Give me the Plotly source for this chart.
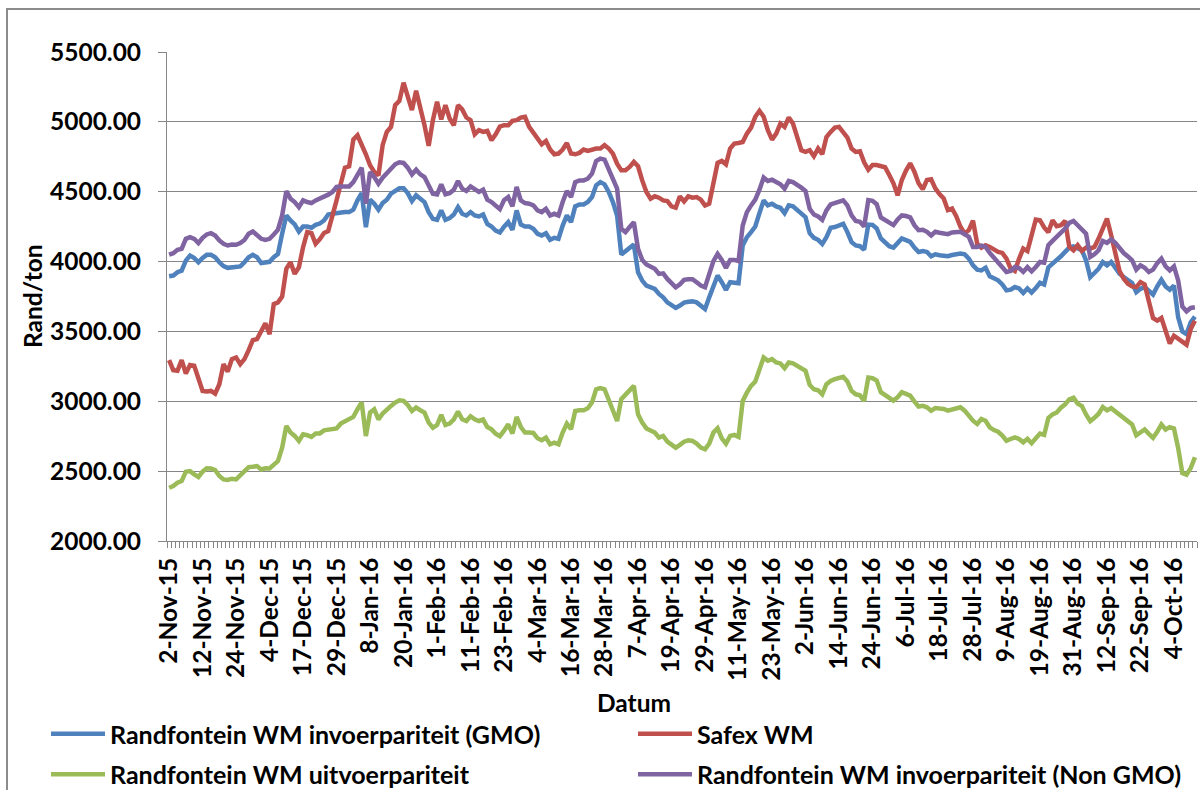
import plotly.graph_objects as go

# x-axis labels, one per 8 trading days
tick_labels = ['2-Nov-15', '12-Nov-15', '24-Nov-15', '4-Dec-15', '17-Dec-15', '29-Dec-15',
               '8-Jan-16', '20-Jan-16', '1-Feb-16', '11-Feb-16', '23-Feb-16', '4-Mar-16',
               '16-Mar-16', '28-Mar-16', '7-Apr-16', '19-Apr-16', '29-Apr-16', '11-May-16',
               '23-May-16', '2-Jun-16', '14-Jun-16', '24-Jun-16', '6-Jul-16', '18-Jul-16',
               '28-Jul-16', '9-Aug-16', '19-Aug-16', '31-Aug-16', '12-Sep-16', '22-Sep-16',
               '4-Oct-16']

names = ['Randfontein WM invoerpariteit (GMO)', 'Safex WM',
         'Randfontein WM uitvoerpariteit', 'Randfontein WM invoerpariteit (Non GMO)']

gmo = [
    3895, 3900, 3924, 3935, 4007, 4043, 4026, 3995, 4026, 4048,
    4048, 4031, 3995, 3967, 3955, 3960, 3967, 3965, 3995, 4031,
    4048, 4031, 3990, 3995, 3998, 4031, 4055, 4200, 4330, 4294,
    4266, 4215, 4251, 4251, 4242, 4263, 4272, 4294, 4337, 4342,
    4347, 4354, 4354, 4354, 4371, 4438, 4490, 4246, 4443, 4414,
    4371, 4419, 4443, 4486, 4510, 4524, 4524, 4490, 4433, 4474,
    4450, 4426, 4354, 4306, 4299, 4366, 4299, 4311, 4337, 4390,
    4342, 4330, 4354, 4330, 4323, 4337, 4270, 4251, 4222, 4208,
    4250, 4282, 4227, 4366, 4266, 4251, 4251, 4235, 4199, 4187,
    4203, 4156, 4170, 4163, 4258, 4330, 4282, 4395, 4409, 4409,
    4426, 4462, 4546, 4569, 4553, 4498, 4426, 4330, 4050, 4074,
    4103, 4122, 3924, 3864, 3828, 3816, 3804, 3768, 3744, 3708,
    3684, 3668, 3685, 3706, 3712, 3715, 3708, 3684, 3660, 3744,
    3828, 3900, 3852, 3797, 3852, 3852, 3845, 4115, 4175, 4211,
    4251, 4347, 4438, 4402, 4414, 4395, 4385, 4347, 4402, 4395,
    4371, 4347, 4318, 4203, 4170, 4156, 4127, 4175, 4242, 4247,
    4258, 4270, 4211, 4139, 4115, 4110, 4085, 4265, 4263, 4237,
    4165, 4141, 4110, 4100, 4134, 4165, 4153, 4141, 4100, 4069,
    4076, 4069, 4038, 4052, 4045, 4045, 4038, 4047, 4055, 4057,
    4052, 4021, 3973, 3942, 3937, 3956, 3895, 3878, 3866, 3837,
    3794, 3799, 3818, 3808, 3775, 3808, 3778, 3810, 3848, 3836,
    3958, 3985, 4009, 4038, 4069, 4100, 4109, 4093, 4081, 4009,
    3889, 3918, 3949, 3997, 3973, 3997, 3956, 3913, 3889, 3865,
    3846, 3781, 3805, 3817, 3788, 3764, 3822, 3870, 3822, 3798,
    3829, 3601, 3500, 3481, 3565, 3606]

safex = [
    3295, 3223, 3218, 3295, 3199, 3259, 3254, 3170, 3074, 3070,
    3074, 3055, 3122, 3266, 3213, 3302, 3314, 3266, 3302, 3366,
    3438, 3445, 3505, 3558, 3481, 3696, 3708, 3749, 3948, 3995,
    3912, 3959, 4103, 4211, 4203, 4127, 4160, 4205, 4218, 4318,
    4438, 4557, 4672, 4682, 4873, 4904, 4844, 4768, 4689, 4641,
    4617, 4833, 4928, 4964, 5120, 5151, 5280, 5180, 5084, 5222,
    5108, 4976, 4828, 5012, 5144, 5017, 5120, 5024, 4976, 5120,
    5089, 5031, 5012, 4911, 4940, 4928, 4935, 4868, 4911, 4966,
    4976, 4976, 5007, 5012, 5031, 5036, 4964, 4921, 4892, 4840,
    4863, 4802, 4768, 4773, 4802, 4849, 4773, 4768, 4778, 4802,
    4792, 4802, 4809, 4809, 4833, 4809, 4773, 4701, 4653, 4653,
    4677, 4713, 4682, 4581, 4498, 4450, 4467, 4457, 4438, 4433,
    4395, 4385, 4467, 4430, 4467, 4457, 4462, 4443, 4402, 4414,
    4545, 4706, 4720, 4696, 4809, 4845, 4849, 4856, 4916, 4959,
    5036, 5079, 5036, 4940, 4873, 4916, 4988, 4964, 5031, 4988,
    4892, 4797, 4785, 4797, 4754, 4809, 4768, 4892, 4928, 4959,
    4964, 4928, 4888, 4809, 4785, 4790, 4710, 4658, 4691, 4691,
    4687, 4675, 4620, 4560, 4474, 4584, 4651, 4703, 4643, 4560,
    4517, 4584, 4589, 4524, 4483, 4452, 4368, 4380, 4325, 4249,
    4201, 4225, 4292, 4129, 4100, 4117, 4105, 4086, 4069, 4062,
    4021, 3950, 3933, 4020, 4093, 4075, 4183, 4301, 4296, 4245,
    4210, 4296, 4253, 4260, 4291, 4105, 4081, 4117, 4076, 4100,
    4093, 4105, 4165, 4248, 4308, 4188, 4052, 3932, 3877, 3841,
    3822, 3817, 3853, 3836, 3716, 3596, 3577, 3596, 3505, 3414,
    3469, 3445, 3429, 3405, 3517, 3577]

uitvoer = [
    2381, 2393, 2417, 2429, 2496, 2500, 2477, 2458, 2496, 2520,
    2519, 2508, 2465, 2441, 2437, 2446, 2441, 2472, 2500, 2529,
    2531, 2536, 2512, 2520, 2519, 2550, 2572, 2668, 2823, 2776,
    2752, 2716, 2764, 2757, 2745, 2769, 2770, 2792, 2799, 2801,
    2806, 2840, 2854, 2866, 2888, 2943, 2991, 2751, 2919, 2943,
    2871, 2912, 2943, 2967, 2991, 3007, 3003, 2974, 2931, 2955,
    2936, 2919, 2847, 2811, 2830, 2902, 2830, 2840, 2871, 2926,
    2871, 2859, 2893, 2871, 2859, 2869, 2816, 2799, 2768, 2750,
    2790, 2835, 2769, 2888, 2816, 2776, 2776, 2773, 2735, 2721,
    2740, 2692, 2704, 2692, 2776, 2840, 2800, 2931, 2936, 2936,
    2950, 2991, 3086, 3094, 3086, 3015, 2936, 2859, 3015, 3050,
    3079, 3110, 2907, 2847, 2806, 2792, 2776, 2740, 2752, 2711,
    2692, 2668, 2688, 2711, 2721, 2716, 2697, 2668, 2656, 2697,
    2776, 2807, 2735, 2697, 2752, 2759, 2745, 3003, 3062, 3110,
    3141, 3218, 3314, 3290, 3302, 3278, 3271, 3237, 3278, 3271,
    3254, 3242, 3218, 3117, 3086, 3079, 3050, 3122, 3146, 3158,
    3165, 3175, 3141, 3074, 3050, 3043, 3003, 3170, 3165, 3149,
    3065, 3046, 3024, 3005, 3029, 3065, 3053, 3041, 3000, 2962,
    2967, 2957, 2933, 2952, 2948, 2945, 2933, 2943, 2952, 2957,
    2933, 2897, 2861, 2838, 2873, 2861, 2814, 2794, 2782, 2754,
    2718, 2730, 2742, 2730, 2706, 2731, 2700, 2735, 2769, 2759,
    2880, 2906, 2920, 2954, 2978, 3014, 3026, 2983, 2966, 2906,
    2858, 2882, 2911, 2959, 2935, 2950, 2925, 2906, 2877, 2858,
    2834, 2757, 2781, 2798, 2767, 2738, 2781, 2834, 2798, 2815,
    2805, 2666, 2486, 2474, 2522, 2599]

non_gmo = [
    4050, 4060, 4084, 4091, 4163, 4175, 4163, 4132, 4170, 4194,
    4203, 4187, 4151, 4127, 4115, 4122, 4120, 4132, 4155, 4199,
    4215, 4187, 4163, 4155, 4163, 4194, 4228, 4330, 4505, 4450,
    4426, 4390, 4438, 4426, 4419, 4438, 4450, 4470, 4479, 4498,
    4534, 4538, 4538, 4538, 4569, 4629, 4672, 4414, 4641, 4605,
    4557, 4600, 4634, 4665, 4696, 4711, 4706, 4672, 4624, 4658,
    4624, 4605, 4538, 4486, 4481, 4553, 4481, 4490, 4514, 4577,
    4522, 4505, 4538, 4522, 4498, 4514, 4443, 4426, 4402, 4375,
    4440, 4462, 4395, 4534, 4438, 4419, 4414, 4402, 4366, 4354,
    4378, 4330, 4342, 4330, 4426, 4505, 4462, 4569, 4581, 4581,
    4593, 4629, 4720, 4737, 4730, 4665, 4593, 4522, 4235, 4211,
    4247, 4282, 4091, 4012, 3979, 3964, 3948, 3912, 3916, 3876,
    3845, 3816, 3838, 3869, 3874, 3874, 3852, 3828, 3816, 3912,
    4003, 4055, 4012, 3955, 4012, 4012, 4003, 4258, 4354, 4402,
    4443, 4515, 4601, 4577, 4586, 4569, 4553, 4522, 4577, 4569,
    4553, 4529, 4505, 4378, 4337, 4323, 4299, 4366, 4409, 4419,
    4433, 4438, 4402, 4330, 4290, 4285, 4250, 4440, 4435, 4411,
    4316, 4297, 4273, 4261, 4302, 4330, 4326, 4316, 4261, 4225,
    4228, 4213, 4187, 4213, 4206, 4201, 4196, 4208, 4213, 4213,
    4196, 4177, 4105, 4105, 4115, 4105, 4062, 4028, 3990, 3961,
    3926, 3933, 3961, 3953, 3926, 3960, 3930, 3961, 3997, 3992,
    4117, 4148, 4177, 4205, 4236, 4277, 4291, 4260, 4224, 4200,
    4033, 4052, 4081, 4148, 4134, 4158, 4134, 4093, 4061, 4037,
    4009, 3942, 3973, 3956, 3925, 3942, 3989, 4021, 3966, 3937,
    3966, 3865, 3678, 3644, 3668, 3673]

n = len(gmo)
x = list(range(n))
gray = '#868686'

fig = go.Figure()
series = [(gmo, '#4F81BD', 'legend'), (safex, '#C0504D', 'legend2'),
          (uitvoer, '#9BBB59', 'legend'), (non_gmo, '#8064A2', 'legend2')]
for (vals, col, leg), name in zip(series, names):
    fig.add_trace(go.Scatter(x=x, y=vals, mode='lines', name=name, legend=leg,
                             legendgroup=name, line=dict(color=col, width=4.5)))

leg_font = dict(family='Lato', size=25, color='black', weight='bold')
fig.update_layout(
    width=1200, height=790,
    margin=dict(l=167, r=3, t=52, b=249, autoexpand=False),
    paper_bgcolor='white', plot_bgcolor='white',
    font=dict(family='Lato', size=24.5, color='black', weight='bold'),
    legend=dict(x=46/1200, xref='container', y=1-711/790, yref='container',
                xanchor='left', yanchor='top', bgcolor='rgba(0,0,0,0)',
                font=leg_font, tracegroupgap=5, itemwidth=54),
    legend2=dict(x=633/1200, xref='container', y=1-711/790, yref='container',
                 xanchor='left', yanchor='top', bgcolor='rgba(0,0,0,0)',
                 font=leg_font, tracegroupgap=5, itemwidth=54),
    shapes=[dict(type='rect', xref='paper', yref='paper',
                 x0=-160/1030, x1=1.2, y0=-0.6, y1=532/489,
                 line=dict(color='#8c8c8c', width=2))],
    annotations=[
        dict(text='Rand/ton', xref='paper', yref='paper', x=(32-167)/1030, y=(541-296)/489,
             textangle=-90, showarrow=False, xanchor='center', yanchor='middle'),
        dict(text='Datum', xref='paper', yref='paper', x=(634-167)/1030, y=(541-703)/489,
             showarrow=False, xanchor='center', yanchor='middle'),
    ],
)
fig.update_xaxes(range=[-0.5, n-0.5], tickmode='array', tickvals=list(range(0, n, 8)),
                 ticktext=tick_labels, tickangle=-90, ticks='', showline=True,
                 linecolor=gray, linewidth=1, showgrid=False, zeroline=False,
                 ticklabelstandoff=6,
                 minor=dict(tickmode='linear', tick0=-0.5, dtick=1, ticks='outside',
                            ticklen=6, tickcolor=gray, tickwidth=1, showgrid=False))
fig.update_yaxes(range=[2000, 5500], tickmode='array', tickvals=list(range(2000, 5501, 500)),
                 tickformat='.2f', ticks='outside', ticklen=8, tickcolor=gray,
                 showline=True, linecolor=gray, linewidth=1, gridcolor=gray, gridwidth=1,
                 zeroline=False, ticklabelstandoff=12)

# page body has an 8px default margin; drop it so the 1200x790 figure fills the window
fig.write_html("out.html", config={'displayModeBar': False},
               post_script="document.body.style.margin='0';")
